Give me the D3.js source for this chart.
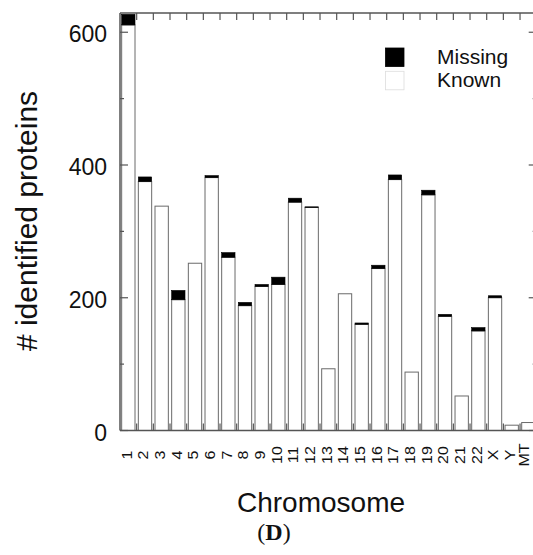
<!DOCTYPE html>
<html>
<head>
<meta charset="utf-8">
<script src="https://cdn.jsdelivr.net/npm/d3@7"></script>
<style>
  html, body { margin: 0; padding: 0; background: #fff; }
  svg { display: block; }
</style>
</head>
<body>
<svg id="chart" width="533" height="555"></svg>
<script>
const categories = ["1","2","3","4","5","6","7","8","9","10","11","12","13","14","15","16","17","18","19","20","21","22","X","Y","MT"];
const known   = [611,375,338,197,252,381,261,188,217,220,344,336,93,206,160,244,378,88,355,172,52,150,200,8,12];
const missing = [16,  7,  0, 14,  0,  3,  7,  5,  3, 11,  6,  1, 0,  0,  2,  5,  7, 0,  7,  3, 0,  5,  3,0, 0];
const yTicks = [0,100,200,300,400,500,600];
const yLabels = [0,200,400,600];
const seriesNames = ["Missing","Known"];

const svg = d3.select("#chart");
const mLeft = 120, mRight = 536.7, mTop = 13, mBottom = 430.5;

const x = d3.scaleBand().domain(categories).range([mLeft, mRight]).paddingInner(0.2).paddingOuter(0.1);
const y = d3.scaleLinear().domain([0, 629]).range([mBottom, mTop]);
const step = x.step();

const data = categories.map((c, i) => ({ c, known: known[i], missing: missing[i] }));

const g = svg.append("g");

g.selectAll("rect.known").data(data).join("rect")
  .attr("class", "known")
  .attr("x", d => x(d.c))
  .attr("width", x.bandwidth())
  .attr("y", d => y(d.known))
  .attr("height", d => y(0) - y(d.known))
  .attr("fill", "#fff")
  .attr("stroke", "#6a6a6a")
  .attr("stroke-width", 1);

g.selectAll("rect.missing").data(data.filter(d => d.missing > 0)).join("rect")
  .attr("class", "missing")
  .attr("x", d => x(d.c))
  .attr("width", x.bandwidth())
  .attr("y", d => y(d.known + d.missing))
  .attr("height", d => y(d.known) - y(d.known + d.missing))
  .attr("fill", "#000")
  .attr("stroke", "#000")
  .attr("stroke-width", 0.6);

const frame = svg.append("g").attr("stroke", "#555").attr("fill", "none");
frame.append("line").attr("x1", mLeft).attr("x2", mLeft).attr("y1", mTop).attr("y2", mBottom).attr("stroke-width", 1.5);
frame.append("line").attr("x1", mLeft).attr("x2", mRight).attr("y1", mTop).attr("y2", mTop).attr("stroke-width", 1.5);
frame.append("line").attr("x1", mLeft).attr("x2", mRight).attr("y1", mBottom).attr("y2", mBottom).attr("stroke-width", 1.5);
frame.append("line").attr("x1", mRight).attr("x2", mRight).attr("y1", mTop).attr("y2", mBottom).attr("stroke-width", 1.5);

const boundaries = categories.slice(1).map(c => x(c) - x.paddingInner() * step / 2);
frame.selectAll("line.tt").data(boundaries).join("line")
  .attr("class", "tt")
  .attr("x1", d => d).attr("x2", d => d).attr("y1", mTop).attr("y2", mTop + 7).attr("stroke-width", 1.2);
frame.selectAll("line.bt").data(boundaries).join("line")
  .attr("class", "bt")
  .attr("x1", d => d).attr("x2", d => d).attr("y1", mBottom).attr("y2", mBottom - 7).attr("stroke-width", 1.2);

yTicks.forEach(v => {
  const len = (v % 200 === 0) ? 8 : 4;
  frame.append("line").attr("x1", mLeft).attr("x2", mLeft + len).attr("y1", y(v)).attr("y2", y(v)).attr("stroke-width", 1.2);
  frame.append("line").attr("x1", mRight).attr("x2", mRight - len).attr("y1", y(v)).attr("y2", y(v)).attr("stroke-width", 1.2);
});

svg.append("g").selectAll("text").data(yLabels).join("text")
  .attr("x", 107).attr("y", d => y(d) + 10)
  .attr("text-anchor", "end")
  .attr("font-family", "Liberation Sans, Arial, sans-serif")
  .attr("font-size", 23)
  .attr("fill", "#111")
  .text(d => d);

svg.append("g").selectAll("text").data(categories).join("text")
  .attr("transform", d => `translate(${Math.min(x(d) + x.bandwidth() / 2 - 1.5, 524.5)},455) rotate(-90) scale(1,0.88)`)
  .attr("text-anchor", "middle")
  .attr("dy", "0.35em")
  .attr("font-family", "Liberation Sans, Arial, sans-serif")
  .attr("font-size", 16)
  .attr("fill", "#111")
  .text(d => d);

svg.append("text")
  .attr("transform", "translate(37,221) rotate(-90)")
  .attr("text-anchor", "middle")
  .attr("font-family", "Liberation Sans, Arial, sans-serif")
  .attr("font-size", 30)
  .attr("fill", "#111")
  .text("# identified proteins");

svg.append("text")
  .attr("x", 321).attr("y", 512)
  .attr("text-anchor", "middle")
  .attr("font-family", "Liberation Sans, Arial, sans-serif")
  .attr("font-size", 28)
  .attr("fill", "#111")
  .text("Chromosome");

const cap = svg.append("text")
  .attr("x", 274).attr("y", 540)
  .attr("text-anchor", "middle")
  .attr("font-family", "Liberation Serif, Times New Roman, serif")
  .attr("font-size", 24)
  .attr("fill", "#111");
cap.append("tspan").text("(");
cap.append("tspan").attr("font-weight", "bold").text("D");
cap.append("tspan").text(")");

const legend = svg.append("g");
const legFill = ["#000", "#fff"];
const legStroke = ["#000", "#ddd"];
seriesNames.forEach((name, i) => {
  legend.append("rect")
    .attr("x", 385.5).attr("y", 48 + i * 23.3)
    .attr("width", 18.5).attr("height", 18.5)
    .attr("fill", legFill[i]).attr("stroke", legStroke[i]).attr("stroke-width", 0.8);
  legend.append("text")
    .attr("x", 437).attr("y", 63.5 + i * 23.3)
    .attr("font-family", "Liberation Sans, Arial, sans-serif")
    .attr("font-size", 21)
    .attr("fill", "#111")
    .text(name);
});
</script>
</body>
</html>
